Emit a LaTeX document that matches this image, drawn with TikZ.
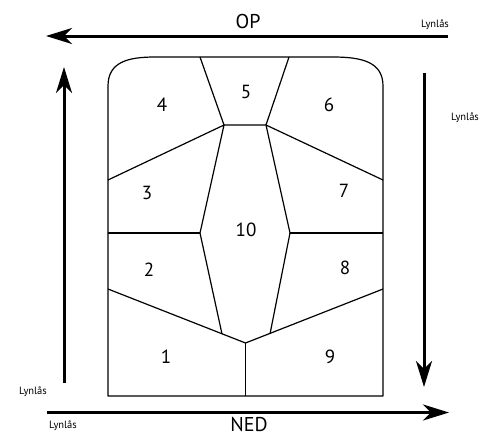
\documentclass[tikz,border=0pt]{standalone}
\usepackage{fontspec}
\setmainfont{PT Sans}
\usetikzlibrary{arrows.meta}
\begin{document}
\begin{tikzpicture}[x=1pt,y=-1pt,
  seam/.style={line width=1.2pt,line join=round},
  bigarrow/.style={line width=3pt,-{Stealth[length=26pt,width=16pt,inset=8pt]}},
  num/.style={font=\fontsize{19}{19}\selectfont,inner sep=0pt},
  dir/.style={font=\fontsize{20}{20}\selectfont,inner sep=0pt},
  lock/.style={font=\fontsize{10.5}{10.5}\selectfont,inner sep=0pt}]
\useasboundingbox (0,0) rectangle (497,437);
% outline points
\coordinate (BL) at (108,396);
\coordinate (BR) at (383,396);
\coordinate (BC) at (245.5,396);
\coordinate (MC) at (245.5,343);
% top hexagon corners
\coordinate (T1) at (200,57);
\coordinate (T2) at (289,57);
\coordinate (H1) at (224,125);
\coordinate (H2) at (266,125);
\coordinate (L1) at (108,180);
\coordinate (R1) at (383,180);
\coordinate (H3) at (200,233);
\coordinate (H4) at (290,233);
\coordinate (L2) at (108,233);
\coordinate (R2) at (383,233);
\coordinate (L3) at (108,289);
\coordinate (R3) at (383,289);
\coordinate (H5) at (222,334);
\coordinate (H6) at (270,334);
% outline
\draw[seam] (BL) -- (108,86) .. controls (108,62) and (128,57) .. (155,57)
  -- (333,57) .. controls (362,57) and (383,62) .. (383,86) -- (BR) -- cycle;
% seams
\draw[seam] (T1) -- (H1) -- (H2) -- (T2);
\draw[seam] (L1) -- (H1) -- (H3) -- (H5);
\draw[seam] (R1) -- (H2) -- (H4) -- (H6);
\draw[seam] (L2) -- (H3);
\draw[seam] (R2) -- (H4);
\draw[seam] (L3) -- (MC) -- (R3);
\draw[seam] (MC) -- (BC);
% numbers
\node[num] (n4) at (162,105) {4};
\node[num] (n5) at (246,92) {5};
\node[num] (n6) at (329,105) {6};
\node[num] (n3) at (147,193) {3};
\node[num] (n7) at (344,191) {7};
\node[num] (n10) at (246,230) {10};
\node[num] (n2) at (149,270) {2};
\node[num] (n8) at (345,268) {8};
\node[num] (n1) at (166,357) {1};
\node[num] (n9) at (330,357) {9};
% arrows
\coordinate (a1s) at (448,36); \coordinate (a1e) at (46,36);
\coordinate (a2s) at (64,383); \coordinate (a2e) at (64,67);
\coordinate (a3s) at (47,412.5); \coordinate (a3e) at (449,412.5);
\coordinate (a4s) at (424,73); \coordinate (a4e) at (424,387);
\draw[bigarrow] (a1s) -- (a1e);
\draw[bigarrow] (a2s) -- (a2e);
\draw[bigarrow] (a3s) -- (a3e);
\draw[bigarrow] (a4s) -- (a4e);
% labels
\node[dir] (op) at (248,21) {OP};
\node[dir] (ned) at (249,424) {NED};
\node[lock] (lk1) at (435,25) {Lynlås};
\node[lock] (lk2) at (465,118) {Lynlås};
\node[lock] (lk3) at (33,392) {Lynlås};
\node[lock] (lk4) at (63,426) {Lynlås};
\end{tikzpicture}
\end{document}
